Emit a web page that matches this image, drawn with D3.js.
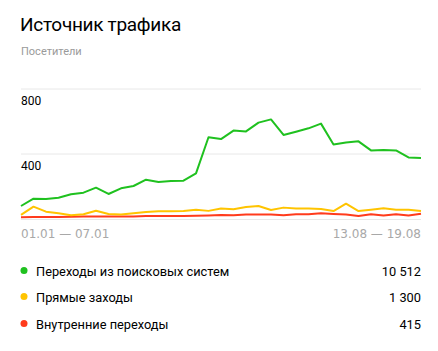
<!DOCTYPE html>
<html><head><meta charset="utf-8">
<script src="https://cdn.jsdelivr.net/npm/d3@7"></script>
<style>body{margin:0;background:#fff;}svg{display:block;}</style>
</head><body>
<svg id="c" width="438" height="351"></svg>
<script>
const title = "Источник трафика";
const subtitle = "Посетители";
const weeks = d3.range(33); // weekly periods 01.01—07.01 … 13.08—19.08
const firstLabel = "01.01 — 07.01";
const lastLabel = "13.08 — 19.08";
const yTicks = [400, 800];
const seriesNames = ["Переходы из поисковых систем", "Прямые заходы", "Внутренние переходы"];
const seriesTotals = ["10 512", "1 300", "415"];
const seriesColors = ["#1fc11f", "#ffc400", "#ff3b1c"];
const search = [80,125,123,131,152,162,193,154,189,203,242,228,234,236,281,503,492,544,539,593,613,517,537,558,587,459,471,478,422,425,422,379,375];
const direct = [25,76,45,35,23,29,51,31,27,35,43,47,47,49,57,50,64,60,74,80,55,70,64,64,62,49,94,49,57,66,57,57,49];
const internal = [11,12,12,13,14,15,16,15,15,16,18,18,19,19,20,22,25,23,27,27,27,23,29,29,35,31,27,18,29,21,29,21,33];
const series = [search, direct, internal];

const svg = d3.select("#c");
const x = d3.scaleLinear().domain([0, weeks.length - 1]).range([21, 421]);
const y = d3.scaleLinear().domain([0, 800]).range([219, 89]);

svg.append("text").attr("x", 20).attr("y", 31).text(title)
  .attr("font-family", "Roboto, 'Noto Sans', sans-serif").attr("font-size", 19)
  .attr("letter-spacing", -0.3).attr("fill", "#000");
svg.append("text").attr("x", 21).attr("y", 55).text(subtitle)
  .attr("font-family", "Roboto, 'Noto Sans', sans-serif").attr("font-size", 11).attr("fill", "#9a9a9a");

// grid
const grid = svg.append("g");
yTicks.forEach(t => {
  grid.append("line").attr("x1", 21).attr("x2", 421).attr("y1", y(t)).attr("y2", y(t))
    .attr("stroke", "#e8e8e8").attr("stroke-width", 1);
  grid.append("text").attr("x", 21).attr("y", y(t) + 16).text(t)
    .attr("font-family", "Roboto, Arial, sans-serif").attr("font-size", 12).attr("fill", "#000");
});
grid.append("line").attr("x1", 21).attr("x2", 421).attr("y1", y(0) + 0.5).attr("y2", y(0) + 0.5)
  .attr("stroke", "#e8e8e8");

const line = d3.line().x((d, i) => x(i)).y(d => y(d));
series.slice().reverse().forEach((s, k) => {
  const idx = series.length - 1 - k;
  svg.append("path").datum(s).attr("d", line).attr("fill", "none")
    .attr("stroke", seriesColors[idx]).attr("stroke-width", 2).attr("stroke-linejoin", "round");
});

svg.append("text").attr("x", 21).attr("y", 238).text(firstLabel)
  .attr("font-family", "'DejaVu Sans', Verdana, sans-serif").attr("font-size", 12).attr("fill", "#a8a8a8");
svg.append("text").attr("x", 421).attr("y", 238).attr("text-anchor", "end").text(lastLabel)
  .attr("font-family", "'DejaVu Sans', Verdana, sans-serif").attr("font-size", 12).attr("fill", "#a8a8a8");

const rowY = [271, 297, 324];
seriesNames.forEach((n, i) => {
  svg.append("circle").attr("cx", 24).attr("cy", rowY[i] - 0.5).attr("r", 3.5).attr("fill", seriesColors[i]);
  svg.append("text").attr("x", 36).attr("y", rowY[i] + 5).text(n)
    .attr("font-family", "Roboto, 'Noto Sans', sans-serif").attr("font-size", 12.8).attr("fill", "#000");
  svg.append("text").attr("x", 421).attr("y", rowY[i] + 5).attr("text-anchor", "end").text(seriesTotals[i])
    .attr("font-family", "Roboto, 'Noto Sans', sans-serif").attr("font-size", 12.8).attr("fill", "#000");
});
</script>
</body></html>
